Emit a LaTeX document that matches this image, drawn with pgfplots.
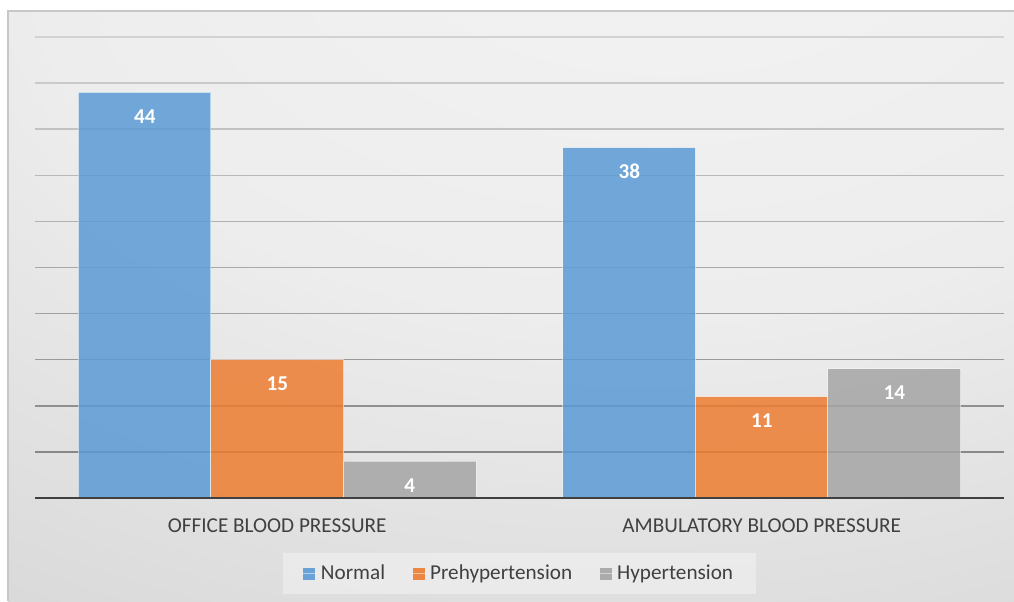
\documentclass[border=0pt]{standalone}
\usepackage{pgfplots}
\pgfplotsset{compat=1.18}
\usepackage{fontspec}
\setmainfont{Carlito}

\newlength\px
\setlength\px{0.5pt}

\definecolor{cBlue}{HTML}{5B9BD5}
\definecolor{cOrange}{HTML}{ED7D31}
\definecolor{cGray}{HTML}{A5A5A5}
\definecolor{txt}{HTML}{404040}
\definecolor{gridD}{HTML}{808080}
\definecolor{gridL}{HTML}{D2D2D2}
\definecolor{bgA}{HTML}{F4F4F4}
\definecolor{bgB}{HTML}{EDEDED}
\definecolor{bgC}{HTML}{D9D9D9}
\definecolor{bgD}{HTML}{CDCDCD}
\definecolor{bgE}{HTML}{C3C3C3}

\pgfdeclareradialshading{chartbg}{\pgfpoint{9bp}{40bp}}{%
  color(0bp)=(bgA); color(30bp)=(bgB); color(55bp)=(bgC);
  color(80bp)=(bgD); color(110bp)=(bgE)}

\newcommand\lblfont{\fontsize{10.6pt}{12.7pt}\selectfont}

\begin{document}
\begin{tikzpicture}
\useasboundingbox (0,0) rectangle (1014\px,601\px);
\fill[white] (0,0) rectangle (1014\px,601\px);
\shade[shading=chartbg] (8\px,0) rectangle (1014\px,590\px);
\draw[line width=1.5\px, black!22] (8\px,0) -- (8\px,590\px) -- (1014\px,590\px);

\begin{axis}[
  at={(35\px,103\px)}, anchor=south west,
  scale only axis, width=969\px, height=461\px,
  xmin=-0.5, xmax=1.5, ymin=0, ymax=50,
  ybar=0pt, bar width=132.5\px,
  axis line style={draw=none},
  ytick=\empty, xtick={0,1},
  xticklabels={OFFICE BLOOD PRESSURE, AMBULATORY BLOOD PRESSURE},
  major tick length=0pt,
  xticklabel style={font=\lblfont, text=txt, yshift=-14\px},
  clip=false,
  /pgf/number format/assume math mode=true,
  nodes near coords,
  every node near coord/.append style={anchor=center, yshift=-24\px,
    font=\lblfont\bfseries, text=white, text opacity=1},
  legend columns=3,
  legend image code/.code={%
    \fill[#1, fill opacity=0.9, draw=none]
      (0,-6\px) rectangle (12\px,6\px);
    \path (0,0) -- (14\px,0);},
  legend style={at={(0.5,0)}, anchor=north, yshift=-55\px,
    draw=none, fill=white, fill opacity=0.35, text opacity=1,
    font=\lblfont, text=txt,
    inner xsep=20\px, inner ysep=8.5\px,
    nodes={inner sep=3\px},
    /tikz/every even column/.append style={column sep=24\px}},
]
\pgfplotsinvokeforeach{5,10,...,50}{
  \draw[line width=1.5\px, color=gridD!\the\numexpr(50-#1)*2\relax!gridL]
    (axis cs:-0.5,#1) -- (axis cs:1.5,#1);
}
\addplot[fill=cBlue, fill opacity=0.85, draw=white, draw opacity=0.5, line width=1\px]
  coordinates {(0,44) (1,38)};
\addplot[fill=cOrange, fill opacity=0.85, draw=white, draw opacity=0.5, line width=1\px]
  coordinates {(0,15) (1,11)};
\addplot[fill=cGray, fill opacity=0.85, draw=white, draw opacity=0.5, line width=1\px]
  coordinates {(0,4) (1,14)};
\draw[line width=2.5\px, color=txt] (axis cs:-0.5,0) -- (axis cs:1.5,0);
\legend{Normal, Prehypertension, Hypertension}
\end{axis}
\end{tikzpicture}
\end{document}
